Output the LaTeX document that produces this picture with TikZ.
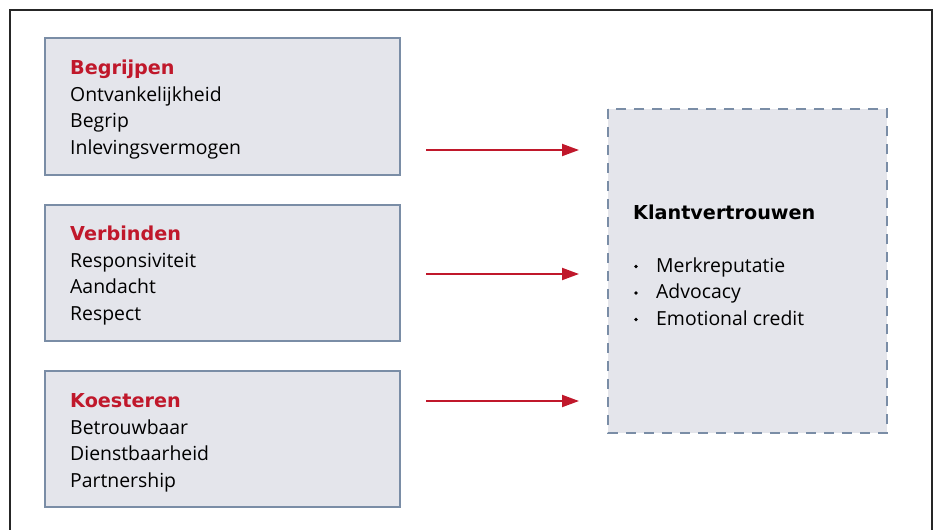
\documentclass[tikz,border=0pt]{standalone}
\usepackage{fontspec}
\setmainfont{Open Sans}
\newfontfamily\headfont{DejaVu Sans}
\usetikzlibrary{arrows.meta}
\definecolor{boxfill}{HTML}{E4E5EB}
\definecolor{boxline}{HTML}{7A8DA6}
\definecolor{tred}{HTML}{C0182B}
\tikzset{
  leftbox/.style={draw=boxline,fill=boxfill,line width=2pt},
  rightbox/.style={draw=boxline,fill=boxfill,line width=2pt,dash pattern=on 10pt off 8pt},
  title/.style={anchor=base west,inner sep=0pt,font=\headfont\fontsize{19.2}{22}\selectfont\bfseries,text=tred},
  item/.style={anchor=base west,inner sep=0pt,font=\fontsize{19.4}{22}\selectfont},
  rtitle/.style={anchor=base west,inner sep=0pt,font=\headfont\fontsize{19.2}{22}\selectfont\bfseries},
  flow/.style={draw=tred,line width=2pt,-{Triangle[length=17pt,width=12pt]}}
}
\begin{document}
\begin{tikzpicture}[x=1pt,y=-1pt]
\useasboundingbox (0,0) rectangle (937,530);
\draw[line width=1.5pt,black!85] (10,532) -- (10,10) -- (932,10) -- (932,532);
% left boxes
\draw[leftbox] (45,38) rectangle (400,175);
\draw[leftbox] (45,205) rectangle (400,341);
\draw[leftbox] (45,371) rectangle (400,507);
\node[title] (t1) at (70,74) {Begrijpen};
\node[item] (a1) at (70,101) {Ontvankelijkheid};
\node[item] (a2) at (70,127.5) {Begrip};
\node[item] (a3) at (70,154) {Inlevingsvermogen};
\node[title] (t2) at (70,240) {Verbinden};
\node[item] (b1) at (70,267) {Responsiviteit};
\node[item] (b2) at (70,293.5) {Aandacht};
\node[item] (b3) at (70,320) {Respect};
\node[title] (t3) at (70,407) {Koesteren};
\node[item] (c1) at (70,434) {Betrouwbaar};
\node[item] (c2) at (70,460.5) {Dienstbaarheid};
\node[item] (c3) at (70,487) {Partnership};
% right box
\draw[rightbox] (608,109) rectangle (887,433);
\node[rtitle] (rt) at (633,219) {Klantvertrouwen};
\node[item] (d1) at (656,272) {Merkreputatie};
\node[item] (d2) at (656,298.5) {Advocacy};
\node[item] (d3) at (656,325) {Emotional credit};
\foreach \y in {272,298.5,325} \fill (636,\y-5.5) circle (1.9pt);
% arrows
\coordinate (s1) at (426,150); \coordinate (e1) at (579,150);
\coordinate (s2) at (426,274); \coordinate (e2) at (579,274);
\coordinate (s3) at (426,401); \coordinate (e3) at (579,401);
\draw[flow] (s1) -- (e1);
\draw[flow] (s2) -- (e2);
\draw[flow] (s3) -- (e3);
\end{tikzpicture}
\end{document}
